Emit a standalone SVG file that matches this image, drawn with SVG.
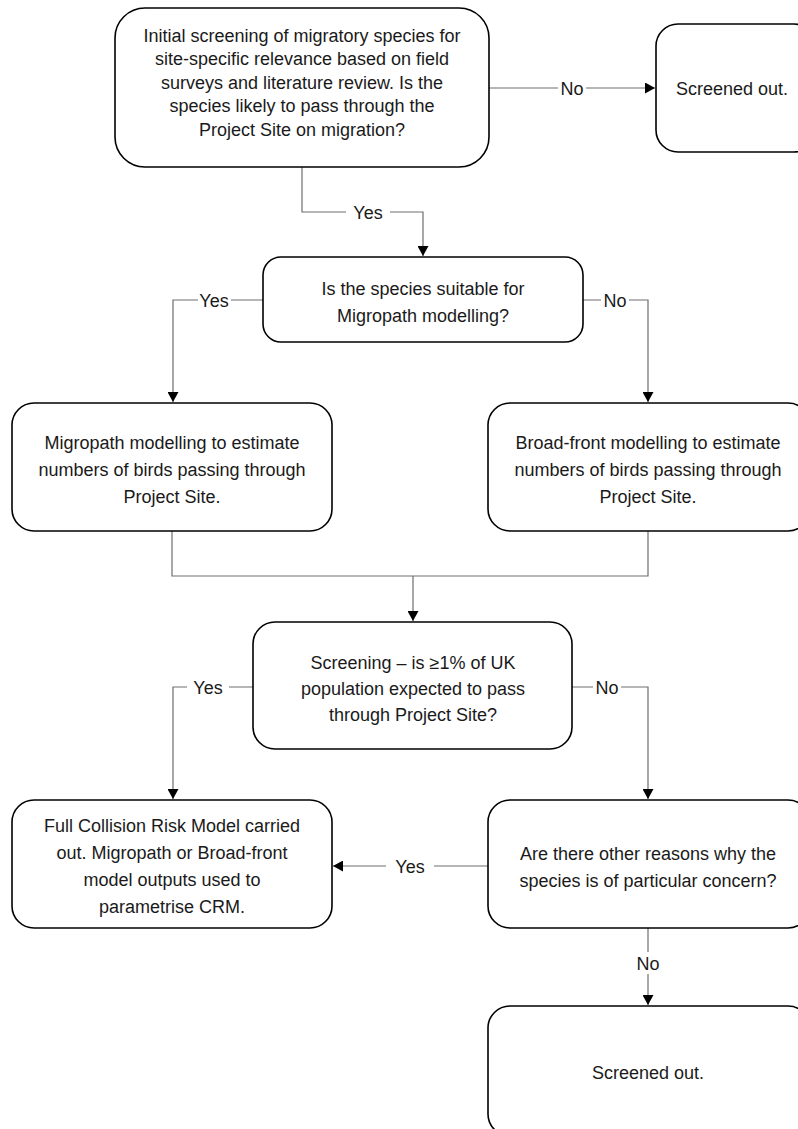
<svg xmlns="http://www.w3.org/2000/svg" width="798" height="1129" viewBox="0 0 798 1129">
<style>
.box{fill:#fff;stroke:#000;stroke-width:1.6}
.t{font-family:"Liberation Sans",Arial,sans-serif;font-size:18px;fill:#1a1a1a;text-anchor:middle}
.c{fill:none;stroke:#6e6e6e;stroke-width:1.2}
.lb{fill:#fff}
</style>
<defs>
<marker id="ah" markerUnits="userSpaceOnUse" markerWidth="10" markerHeight="11" refX="10" refY="5.5" orient="auto">
<path d="M0,0 L10,5.5 L0,11 z" fill="#000"/>
</marker>
</defs>
<rect width="798" height="1129" fill="#fff"/>
<g id="connectors">
<path class="c" d="M489,88 H655" marker-end="url(#ah)"/>
<path class="c" d="M302,167 V212 H423 V256" marker-end="url(#ah)"/>
<path class="c" d="M263,300 H173 V402" marker-end="url(#ah)"/>
<path class="c" d="M583,300 H648 V402" marker-end="url(#ah)"/>
<path class="c" d="M172,531 V576 H648 V531"/>
<path class="c" d="M413,576 V621" marker-end="url(#ah)"/>
<path class="c" d="M253,687 H173 V799" marker-end="url(#ah)"/>
<path class="c" d="M572,687 H648 V799" marker-end="url(#ah)"/>
<path class="c" d="M488,866 H333" marker-end="url(#ah)"/>
<path class="c" d="M648,928 V1005" marker-end="url(#ah)"/>
<rect class="lb" x="558" y="77" width="28" height="22"/>
<text class="t" x="572" y="94.5">No</text>
<rect class="lb" x="346" y="201" width="44" height="22"/>
<text class="t" x="368" y="218.5">Yes</text>
<rect class="lb" x="198" y="289" width="33" height="22"/>
<text class="t" x="214" y="306.5">Yes</text>
<rect class="lb" x="601" y="289" width="28" height="22"/>
<text class="t" x="615" y="306.5">No</text>
<rect class="lb" x="187" y="676" width="42" height="22"/>
<text class="t" x="208" y="693.5">Yes</text>
<rect class="lb" x="593" y="676" width="28" height="22"/>
<text class="t" x="607" y="693.5">No</text>
<rect class="lb" x="386" y="855" width="48" height="22"/>
<text class="t" x="410" y="872.5">Yes</text>
<rect class="lb" x="634" y="952" width="28" height="22"/>
<text class="t" x="648" y="969.5">No</text>
</g>
<g id="n1">
<rect class="box" x="115" y="8" width="374" height="159" rx="30"/>
<text class="t" x="302" y="41.5">Initial screening of migratory species for</text>
<text class="t" x="302" y="65">site-specific relevance based on field</text>
<text class="t" x="302" y="88.5">surveys and literature review. Is the</text>
<text class="t" x="302" y="112">species likely to pass through the</text>
<text class="t" x="302" y="135.5">Project Site on migration?</text>
</g>
<g id="n2">
<rect class="box" x="656" y="24" width="160" height="128" rx="22"/>
<text class="t" x="732" y="94.5">Screened out.</text>
</g>
<g id="n3">
<rect class="box" x="263" y="257" width="320" height="85" rx="18"/>
<text class="t" x="423" y="294.5">Is the species suitable for</text>
<text class="t" x="423" y="321.5">Migropath modelling?</text>
</g>
<g id="n4">
<rect class="box" x="12" y="403" width="320" height="128" rx="22"/>
<text class="t" x="172" y="448.5">Migropath modelling to estimate</text>
<text class="t" x="172" y="475.5">numbers of birds passing through</text>
<text class="t" x="172" y="502.5">Project Site.</text>
</g>
<g id="n5">
<rect class="box" x="488" y="403" width="322" height="128" rx="22"/>
<text class="t" x="648" y="448.5">Broad-front modelling to estimate</text>
<text class="t" x="648" y="475.5">numbers of birds passing through</text>
<text class="t" x="648" y="502.5">Project Site.</text>
</g>
<g id="n6">
<rect class="box" x="253" y="622" width="319" height="127" rx="22"/>
<text class="t" x="413" y="668.5">Screening – is ≥1% of UK</text>
<text class="t" x="413" y="694.5">population expected to pass</text>
<text class="t" x="413" y="720.5">through Project Site?</text>
</g>
<g id="n7">
<rect class="box" x="12" y="800" width="320" height="128" rx="22"/>
<text class="t" x="172" y="831.5">Full Collision Risk Model carried</text>
<text class="t" x="172" y="858.5">out. Migropath or Broad-front</text>
<text class="t" x="172" y="885.5">model outputs used to</text>
<text class="t" x="172" y="912.5">parametrise CRM.</text>
</g>
<g id="n8">
<rect class="box" x="488" y="800" width="322" height="128" rx="22"/>
<text class="t" x="648" y="859.5">Are there other reasons why the</text>
<text class="t" x="648" y="886.5">species is of particular concern?</text>
</g>
<g id="n9">
<rect class="box" x="488" y="1006" width="322" height="130" rx="22"/>
<text class="t" x="648" y="1078.5">Screened out.</text>
</g>
</svg>
